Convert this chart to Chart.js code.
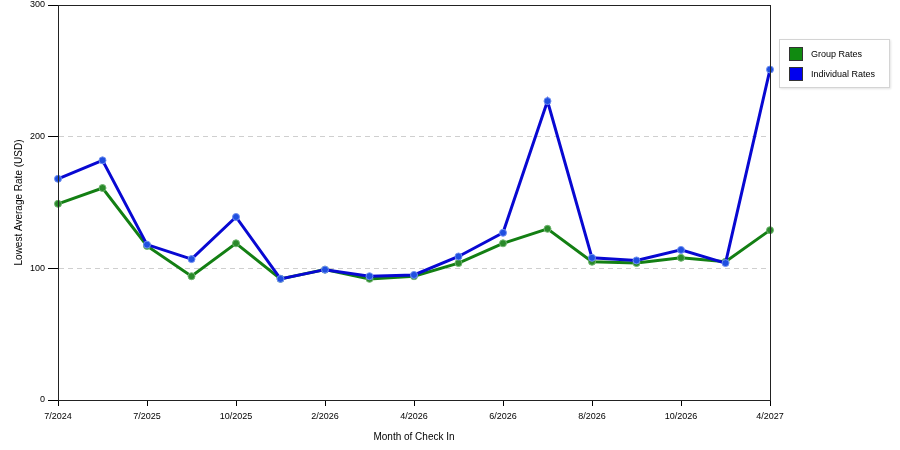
<!DOCTYPE html>
<html>
<head>
<meta charset="utf-8">
<script src="https://cdn.jsdelivr.net/npm/chart.js@4.4.0/dist/chart.umd.min.js"></script>
<style>
    body { margin: 0; background: #fff; }
    #wrap { position: relative; width: 900px; height: 450px; }
    #legend {
        position: absolute; left: 779px; top: 39px; width: 109px; height: 47px;
        border: 1px solid #d4d4d4; box-shadow: 1px 1px 2px #e4e4e4;
        font: 9px "Liberation Sans", Arial, sans-serif; color: #000;
    }
    #legend .item { position: absolute; left: 9px; height: 14px; line-height: 14px; }
    #legend .box { display: inline-block; width: 12px; height: 12px; border: 1px solid #333; vertical-align: top; margin-right: 8px; }
</style>
</head>
<body>
<div id="wrap">
    <canvas id="chart" width="900" height="450"></canvas>
    <div id="legend"></div>
</div>
<script>
// Month of check-in (only every other one is labelled on the axis)
const months = ['7/2024', '6/2025', '7/2025', '9/2025', '10/2025', '12/2025', '2/2026', '3/2026', '4/2026',
                '5/2026', '6/2026', '7/2026', '8/2026', '9/2026', '10/2026', '12/2026', '4/2027'];
const groupRates = [149, 161, 117, 94, 119, 92, 99, 92, 94, 104, 119, 130, 105, 104, 108, 105, 129];
const individualRates = [168, 182, 118, 107, 139, 92, 99, 94, 95, 109, 127, 227, 108, 106, 114, 104, 251];
const yTicks = [0, 100, 200, 300];

const GREEN = '#137f13';
const BLUE = '#0808d2';
const FONT = '"Liberation Sans", Arial, sans-serif';

// Legend
const legendItems = [
    { label: 'Group Rates', color: '#108a10' },
    { label: 'Individual Rates', color: '#0000ee' }
];
document.getElementById('legend').innerHTML = legendItems.map((it, i) =>
    `<div class="item" style="top:${7 + i * 20}px"><span class="box" style="background:${it.color}"></span>${it.label}</div>`
).join('');

// draws the black frame around the plot area
const framePlugin = {
    id: 'frame',
    afterDraw(chart) {
        const { ctx, chartArea: a } = chart;
        ctx.save();
        ctx.strokeStyle = '#222';
        ctx.lineWidth = 1;
        ctx.strokeRect(Math.round(a.left) + 0.5, Math.round(a.top) + 0.5,
            Math.round(a.right - a.left), Math.round(a.bottom - a.top));
        ctx.restore();
    }
};

Chart.defaults.font.family = FONT;
Chart.defaults.font.size = 9;
Chart.defaults.color = '#000';

new Chart(document.getElementById('chart').getContext('2d'), {
    type: 'line',
    data: {
        labels: months,
        datasets: [
            {
                label: 'Group Rates',
                data: groupRates,
                borderColor: GREEN,
                backgroundColor: GREEN,
                pointBackgroundColor: '#2a8a2a',
                pointBorderColor: '#6fb56f',
                borderWidth: 3,
                pointRadius: 3.5,
                pointBorderWidth: 1,
                tension: 0,
                order: 1
            },
            {
                label: 'Individual Rates',
                data: individualRates,
                borderColor: BLUE,
                backgroundColor: BLUE,
                pointBackgroundColor: '#1f4fe0',
                pointBorderColor: '#6f8ff0',
                borderWidth: 3,
                pointRadius: 3.5,
                pointBorderWidth: 1,
                tension: 0,
                order: 0
            }
        ]
    },
    options: {
        responsive: false,
        animation: false,
        layout: { padding: { left: 0, right: 130, top: 5, bottom: 0 } },
        plugins: {
            legend: { display: false },
            tooltip: { enabled: false }
        },
        scales: {
            x: {
                offset: false,
                afterFit(scale) { scale.height = 50; },
                grid: {
                    drawOnChartArea: false,
                    drawTicks: true,
                    tickLength: 6,
                    color: 'rgba(0,0,0,0)',
                    tickColor: ctx => (ctx.index % 2 === 0 ? '#000' : 'rgba(0,0,0,0)')
                },
                border: { color: '#222' },
                ticks: {
                    autoSkip: false,
                    maxRotation: 0,
                    padding: 5,
                    callback: (v, i) => (i % 2 === 0 ? months[i] : '')
                },
                title: {
                    display: true,
                    text: 'Month of Check In',
                    font: { size: 10 },
                    padding: { top: 7, bottom: 7 }
                }
            },
            y: {
                min: 0,
                max: 300,
                afterFit(scale) {
                    scale.width = 58;
                    scale.paddingTop = 0;
                    scale.paddingBottom = 0;
                },
                afterBuildTicks(scale) { scale.ticks = yTicks.map(v => ({ value: v })); },
                grid: {
                    color: ctx => (ctx.tick && (ctx.tick.value === 0 || ctx.tick.value === 300) ? 'rgba(0,0,0,0)' : '#cfcfcf'),
                    tickColor: '#000',
                    tickLength: 10
                },
                border: { color: '#222', dash: [5, 4] },
                ticks: { padding: 3 },
                title: {
                    display: true,
                    text: 'Lowest Average Rate (USD)',
                    font: { size: 10 },
                    padding: { top: 13, bottom: 13 }
                }
            }
        }
    },
    plugins: [framePlugin]
});
</script>
</body>
</html>
